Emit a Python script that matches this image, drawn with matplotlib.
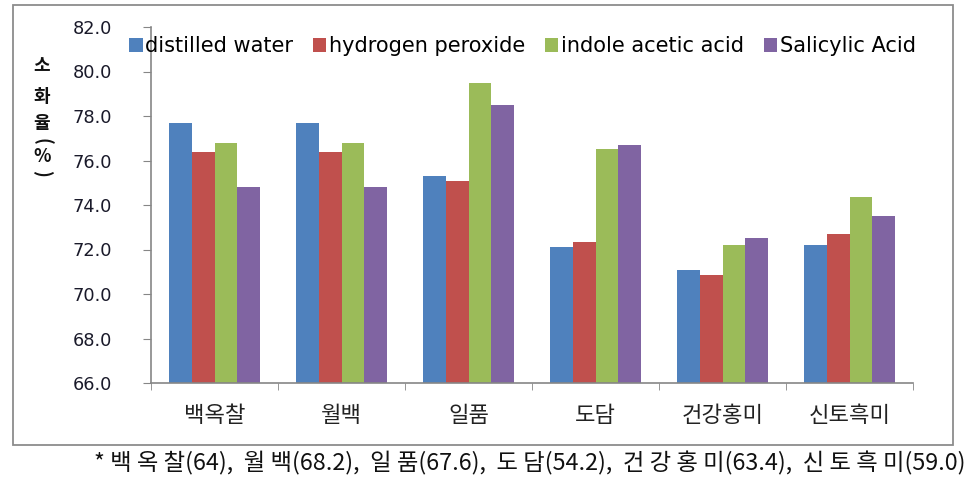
import matplotlib
matplotlib.use("Agg")
import matplotlib.pyplot as plt
from matplotlib.patches import Rectangle
import numpy as np

categories = ["백옥찰", "월백", "일품", "도담", "건강홍미", "신토흑미"]
series_names = ["distilled water", "hydrogen peroxide", "indole acetic acid", "Salicylic Acid"]
distilled_water = [77.7, 77.7, 75.3, 72.1, 71.1, 72.2]
hydrogen_peroxide = [76.4, 76.4, 75.1, 72.35, 70.85, 72.7]
indole_acetic_acid = [76.8, 76.8, 79.5, 76.5, 72.2, 74.35]
salicylic_acid = [74.8, 74.8, 78.5, 76.7, 72.5, 73.5]
yticks = [66.0, 68.0, 70.0, 72.0, 74.0, 76.0, 78.0, 80.0, 82.0]
footnote = "* 백 옥 찰(64),  월 백(68.2),  일 품(67.6),  도 담(54.2),  건 강 홍 미(63.4),  신 토 흑 미(59.0)"
ylabel_chars = ["소", "화", "율", "(", "%", ")"]

colors = ["#4F81BD", "#C0504D", "#9BBB59", "#8064A2"]
KR = ["Noto Sans CJK KR", "DejaVu Sans"]

W, H = 972, 484
fig = plt.figure(figsize=(W / 100, H / 100), dpi=100)
ax = fig.add_axes([151 / W, 1 - 383 / H, (913 - 151) / W, (383 - 27) / H])

x = np.arange(len(categories))
bw = 0.18
all_series = [distilled_water, hydrogen_peroxide, indole_acetic_acid, salicylic_acid]
handles = []
for i, (vals, c, name) in enumerate(zip(all_series, colors, series_names)):
    b = ax.bar(x + (i - 1.5) * bw, np.array(vals) - 66.0, bw, bottom=66.0,
               color=c, label=name, linewidth=0)
    handles.append(b)

ax.set_xlim(-0.5, len(categories) - 0.5)
ax.set_ylim(66, 82)
ax.set_yticks(yticks)
ax.set_yticklabels([f"{v:.1f}" for v in yticks], fontsize=12.8,
                   fontfamily="DejaVu Sans", color="#1a1a2a")
ax.set_xticks(x)
ax.set_xticklabels(categories, fontfamily=KR, fontsize=16, color="#222222")
ax.set_xticks(np.arange(-0.5, len(categories)), minor=True)
ax.tick_params(axis="x", which="major", length=0, pad=15)
ax.tick_params(axis="x", which="minor", length=5, color="#868686", direction="out")
ax.tick_params(axis="y", length=6, color="#868686", direction="out", pad=22)

for s in ["top", "right"]:
    ax.spines[s].set_visible(False)
for s in ["left", "bottom"]:
    ax.spines[s].set_color("#868686")
    ax.spines[s].set_linewidth(1.2)

leg = fig.legend(handles=handles, labels=series_names, loc="center left",
                 bbox_to_anchor=(129 / W, 1 - 46 / H), ncol=4, frameon=False,
                 prop={"family": "DejaVu Sans", "size": 15}, handlelength=0.65,
                 handleheight=0.65, handletextpad=0.12, columnspacing=0.95,
                 borderaxespad=0, borderpad=0)

# vertical y label
ys = [66, 96, 124, 141, 157, 173]
rots = [0, 0, 0, -90, 0, -90]
for ch, yy, r in zip(ylabel_chars, ys, rots):
    fig.text(42 / W, 1 - yy / H, ch, ha="center", va="center", rotation=r,
             fontfamily=KR, fontsize=13, fontweight="bold", color="#111111")

# outer frame
fig.patches.append(Rectangle((13 / W, 1 - 445 / H), (953 - 13) / W, (445 - 5) / H,
                             transform=fig.transFigure, fill=False,
                             edgecolor="#8c8c8c", linewidth=1.3))

fig.text(965 / W, 1 - 463 / H, footnote, ha="right", va="center",
         fontfamily=KR, fontsize=16.8, color="#111111")

fig.savefig("out.png", dpi=100)
